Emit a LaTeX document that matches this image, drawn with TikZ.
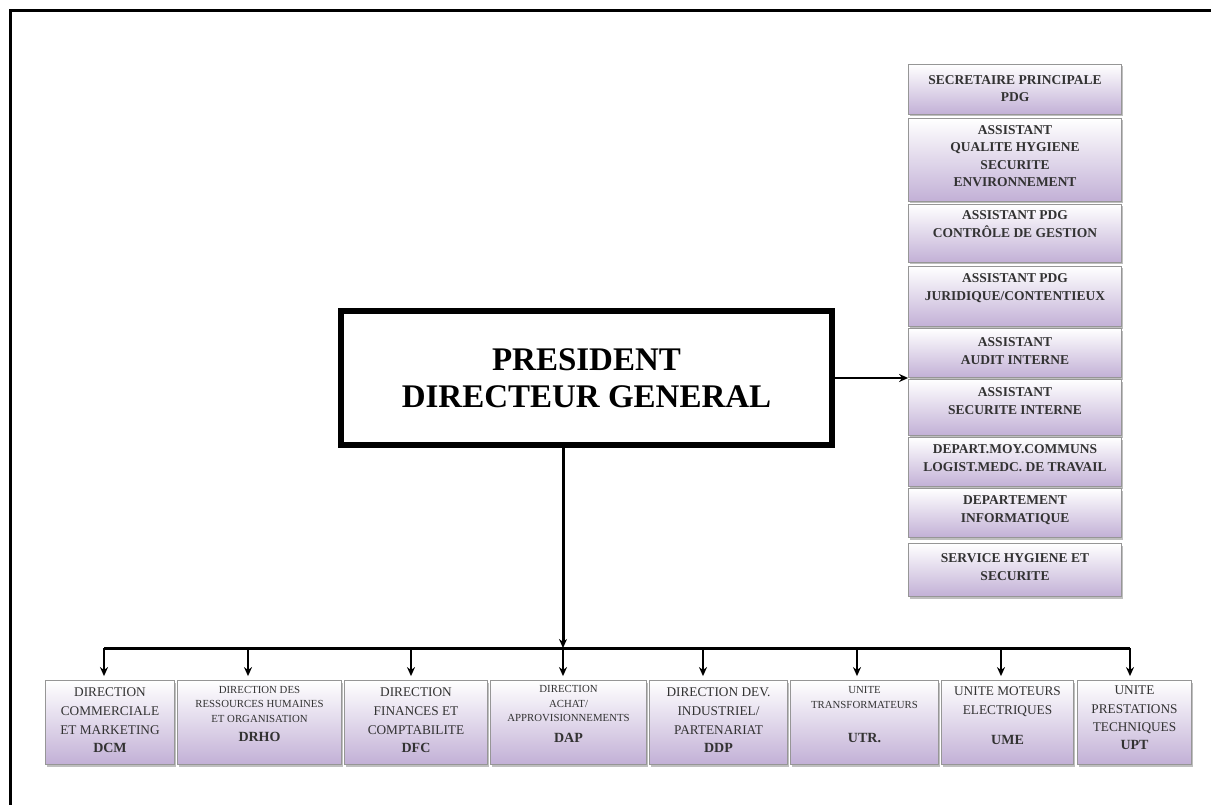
\documentclass[tikz,border=0pt]{standalone}
\usepackage{fontspec}
\setmainfont{Liberation Serif}
\usetikzlibrary{arrows.meta,shadows,calc}
\definecolor{lav}{RGB}{194,176,214}
\definecolor{txt}{RGB}{50,50,50}
\definecolor{bord}{RGB}{150,150,150}
\begin{document}
\begin{tikzpicture}[x=1pt,y=1pt,
  box/.style={draw=bord, line width=0.8pt, top color=white, bottom color=lav,
    drop shadow={shadow xshift=1.5pt,shadow yshift=-2pt,fill=black,opacity=0.25}},
  rtext/.style={font=\bfseries\fontsize{13.5}{17.5}\selectfont, text=txt, align=center, inner sep=0pt},
  btext/.style={font=\fontsize{13.3}{18.7}\selectfont, text=txt, align=center, inner sep=0pt},
  stext/.style={font=\fontsize{10.8}{14.5}\selectfont, text=txt, align=center, inner sep=0pt},
  ctext/.style={font=\bfseries\fontsize{14}{18}\selectfont, text=txt, inner sep=0pt},
  arr/.style={-{Stealth[length=9pt,width=8pt]}, line width=2pt},
  frame/.style={line width=3pt}
]
\useasboundingbox (0,0) rectangle (1211,-805);
\fill[white] (0,0) rectangle (1211,-805);
\draw[frame] (10,-805) -- (10,-11) -- (1211,-11);

% right column
\node[box, minimum width=213, minimum height=50] (r1) at (1015,-89.5) {};
\node[box, minimum width=213, minimum height=83] (r2) at (1015,-160) {};
\node[box, minimum width=213, minimum height=58] (r3) at (1015,-233.5) {};
\node[box, minimum width=213, minimum height=60] (r4) at (1015,-296.5) {};
\node[box, minimum width=213, minimum height=49] (r5) at (1015,-353) {};
\node[box, minimum width=213, minimum height=56] (r6) at (1015,-407.5) {};
\node[box, minimum width=213, minimum height=49] (r7) at (1015,-462) {};
\node[box, minimum width=213, minimum height=49] (r8) at (1015,-513) {};
\node[box, minimum width=213, minimum height=53] (r9) at (1015,-570) {};
\node[rtext] (r1t) at (1015,-88.5) {SECRETAIRE PRINCIPALE\\PDG};
\node[rtext] (r2t) at (1015,-156) {ASSISTANT\\QUALITE HYGIENE\\SECURITE\\ENVIRONNEMENT};
\node[rtext] (r3t) at (1015,-224) {ASSISTANT PDG\\CONTRÔLE DE GESTION};
\node[rtext] (r4t) at (1015,-288) {ASSISTANT PDG\\JURIDIQUE/CONTENTIEUX};
\node[rtext] (r5t) at (1015,-351) {ASSISTANT\\AUDIT INTERNE};
\node[rtext] (r6t) at (1015,-401) {ASSISTANT\\SECURITE INTERNE};
\node[rtext] (r7t) at (1015,-458) {DEPART.MOY.COMMUNS\\LOGIST.MEDC. DE TRAVAIL};
\node[rtext] (r8t) at (1015,-510) {DEPARTEMENT\\INFORMATIQUE};
\node[rtext] (r9t) at (1015,-567) {SERVICE HYGIENE ET\\SECURITE};

% central box
\node[draw, line width=4pt, minimum width=493, minimum height=136, align=center,
  font=\bfseries\fontsize{33}{37}\selectfont, fill=white] (pd) at (586.5,-378)
  {PRESIDENT\\DIRECTEUR GENERAL};
\draw[line width=1.5pt] ([shift={(5,-5)}]pd.north west) rectangle ([shift={(-5,5)}]pd.south east);

% bottom boxes
\node[box, minimum width=129, minimum height=84] (dcm) at (110,-722.5) {};
\node[box, minimum width=164, minimum height=84] (drho) at (259.5,-722.5) {};
\node[box, minimum width=143, minimum height=84] (dfc) at (416,-722.5) {};
\node[box, minimum width=156, minimum height=84] (dap) at (568.5,-722.5) {};
\node[box, minimum width=138, minimum height=84] (ddp) at (718.5,-722.5) {};
\node[box, minimum width=148, minimum height=84] (utr) at (864.5,-722.5) {};
\node[box, minimum width=132, minimum height=84] (ume) at (1007.5,-722.5) {};
\node[box, minimum width=114, minimum height=84] (upt) at (1134.5,-722.5) {};

\node[btext] (dcmt) at (110,-711) {DIRECTION\\COMMERCIALE\\ET MARKETING};
\node[ctext] (dcmc) at (110,-748) {DCM};
\node[stext] (drhot) at (259.5,-704) {DIRECTION DES\\RESSOURCES HUMAINES\\ET ORGANISATION};
\node[ctext] (drhoc) at (259.5,-737) {DRHO};
\node[btext] (dfct) at (416,-711) {DIRECTION\\FINANCES ET\\COMPTABILITE};
\node[ctext] (dfcc) at (416,-748) {DFC};
\node[stext] (dapt) at (568.5,-704) {DIRECTION\\ACHAT/\\APPROVISIONNEMENTS};
\node[ctext] (dapc) at (568.5,-738) {DAP};
\node[btext] (ddpt) at (718.5,-711) {DIRECTION DEV.\\INDUSTRIEL/\\PARTENARIAT};
\node[ctext] (ddpc) at (718.5,-748) {DDP};
\node[stext] (utrt) at (864.5,-697.5) {UNITE\\TRANSFORMATEURS};
\node[ctext] (utrc) at (864.5,-738) {UTR.};
\node[btext] (umet) at (1007.5,-701.5) {UNITE MOTEURS\\ELECTRIQUES};
\node[ctext] (umec) at (1007.5,-740) {UME};
\node[btext] (uptt) at (1134.5,-710) {UNITE\\PRESTATIONS\\TECHNIQUES};
\node[ctext] (uptc) at (1134.5,-745) {UPT};

% connectors
\coordinate (b1) at (104,-648);
\coordinate (b2) at (248,-648);
\coordinate (b3) at (411,-648);
\coordinate (b4) at (563,-648);
\coordinate (b5) at (703,-648);
\coordinate (b6) at (857,-648);
\coordinate (b7) at (1001,-648);
\coordinate (b8) at (1130,-648);
\draw[line width=3pt] (b1) -- (b8);
\draw[arr, line width=3pt] (b4 |- pd.south) -- (b4);
\draw[arr] (pd.east) -- (pd.east -| r5.west);
\foreach \b/\n in {b1/dcm,b2/drho,b3/dfc,b4/dap,b5/ddp,b6/utr,b7/ume,b8/upt}
  \draw[arr, shorten >=4pt] (\b) -- (\b |- \n.north);
\end{tikzpicture}
\end{document}
